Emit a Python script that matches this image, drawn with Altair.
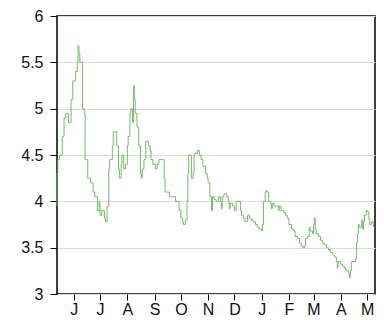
import altair as alt
import pandas as pd

start_date = "2010-05-13"
day_offsets = [0, 0, 1, 3, 6, 8, 10, 13, 15, 16, 18, 21, 23, 24, 25, 26, 29, 31, 32, 35, 38, 41, 43, 46, 48,
               49, 51, 54, 55, 57, 59, 60, 63, 64, 67, 68, 70, 71, 73, 74, 76, 78, 80, 81, 83, 84, 86,
               87, 88, 89, 91, 93, 95, 96, 97, 99, 101, 104, 106, 107, 109, 112, 114, 116, 119, 121,
               122, 123, 125, 128, 130, 132, 135, 137, 139, 141, 143, 144, 146, 148, 149, 150, 152,
               153, 155, 156, 157, 160, 162, 164, 166, 169, 171, 172, 174, 176, 177, 179, 181, 184,
               186, 187, 188, 190, 193, 195, 196, 197, 200, 202, 204, 206, 209, 210, 212, 214, 217,
               219, 221, 223, 226, 228, 230, 233, 234, 235, 237, 238, 239, 241, 243, 244, 245, 247,
               250, 252, 253, 255, 258, 260, 262, 264, 267, 269, 271, 274, 276, 278, 280, 282, 283,
               285, 287, 288, 291, 292, 293, 294, 295, 298, 300, 302, 304, 307, 309, 311, 314, 316,
               318, 319, 320, 323, 325, 327, 329, 332, 333, 334, 335, 337, 340, 341, 342, 343, 344,
               347, 348, 349, 350, 352, 354, 355, 356, 358, 360, 362]
rates = [3.95, 4.3, 4.45, 4.5, 4.7, 4.9, 4.95, 4.85, 4.85, 5.1, 5.3, 5.4, 5.5, 5.68, 5.6, 5.5, 5.0, 4.95,
         4.45, 4.25, 4.2, 4.1, 4.05, 3.9, 4.0, 3.85, 3.9, 3.82, 3.78, 3.95, 4.35, 4.45, 4.6, 4.75,
         4.75, 4.6, 4.35, 4.25, 4.4, 4.5, 4.35, 4.4, 4.6, 4.7, 4.95, 5.0, 4.85, 5.25, 5.1, 4.95,
         4.8, 4.6, 4.3, 4.25, 4.35, 4.45, 4.65, 4.6, 4.55, 4.45, 4.4, 4.35, 4.4, 4.45, 4.45, 4.45,
         4.25, 4.1, 4.1, 4.05, 4.05, 4.05, 4.0, 4.0, 3.9, 3.82, 3.78, 3.75, 3.8, 4.0, 4.3, 4.5,
         4.5, 4.25, 4.3, 4.5, 4.52, 4.55, 4.5, 4.45, 4.38, 4.3, 4.25, 4.2, 4.05, 3.9, 4.05, 4.02,
         4.0, 4.05, 4.0, 3.92, 4.05, 4.08, 4.05, 4.0, 3.92, 3.98, 3.95, 3.9, 4.0, 4.0, 3.9, 3.85,
         3.82, 3.78, 3.85, 3.82, 3.8, 3.78, 3.75, 3.72, 3.7, 3.68, 3.75, 4.0, 4.1, 4.12, 4.1, 4.0,
         3.98, 3.92, 3.98, 3.95, 3.95, 3.9, 3.95, 3.9, 3.88, 3.85, 3.82, 3.75, 3.7, 3.68, 3.62,
         3.6, 3.55, 3.52, 3.5, 3.52, 3.6, 3.62, 3.72, 3.68, 3.65, 3.75, 3.82, 3.7, 3.65, 3.62,
         3.58, 3.55, 3.53, 3.5, 3.48, 3.45, 3.42, 3.4, 3.35, 3.28, 3.35, 3.32, 3.3, 3.28, 3.25,
         3.22, 3.18, 3.25, 3.35, 3.35, 3.38, 3.55, 3.65, 3.75, 3.72, 3.8, 3.7, 3.78, 3.85, 3.9,
         3.88, 3.8, 3.75, 3.78, 3.72, 3.72]
month_ticks = ["2010-06-01", "2010-07-01", "2010-08-01", "2010-09-01", "2010-10-01", "2010-11-01",
               "2010-12-01", "2011-01-01", "2011-02-01", "2011-03-01", "2011-04-01", "2011-05-01"]
y_ticks = [3, 3.5, 4, 4.5, 5, 5.5, 6]

n = min(len(day_offsets), len(rates))
dates = pd.Timestamp(start_date) + pd.to_timedelta(day_offsets[:n], unit="D")
df = pd.DataFrame({"date": dates.strftime("%Y-%m-%d"), "rate": rates[:n]})

tick_values = [
    alt.DateTime(year=int(d[:4]), month=int(d[5:7]), date=1) for d in month_ticks
]

chart = (
    alt.Chart(df)
    .mark_line(color="#72bd65", strokeWidth=1, interpolate="step-after")
    .encode(
        x=alt.X(
            "date:T",
            scale=alt.Scale(domain=[alt.DateTime(year=2010, month=5, date=13),
                                    alt.DateTime(year=2011, month=5, date=10)], nice=False),
            axis=alt.Axis(
                values=tick_values,
                labelExpr="slice(timeFormat(datum.value, '%b'), 0, 1)",
                title=None,
                grid=False,
                domain=False,
                tickColor="black",
                tickSize=6,
                labelFontSize=16,
                labelColor="#111",
                labelFont="Liberation Sans",
                labelPadding=1,
                labelFlush=False,
                labelOverlap=False,
            ),
        ),
        y=alt.Y(
            "rate:Q",
            scale=alt.Scale(domain=[3, 6], nice=False, zero=False),
            axis=alt.Axis(
                values=y_ticks,
                format="~g",
                title=None,
                grid=True,
                gridColor="#dcdcdc",
                domain=False,
                tickColor="black",
                tickSize=7,
                labelFontSize=16,
                labelColor="#111",
                labelFont="Liberation Sans",
                labelPadding=7,
                labelOverlap=False,
            ),
        ),
    )
    .properties(
        width=318,
        height=278,
        autosize=alt.AutoSizeParams(type="none"),
        padding={"left": 57, "top": 16, "right": 9, "bottom": 26},
        background="white",
    )
    .configure_view(stroke="black", strokeWidth=1.5)
)

chart.save("out.html", embed_options={"renderer": "svg", "actions": False})
